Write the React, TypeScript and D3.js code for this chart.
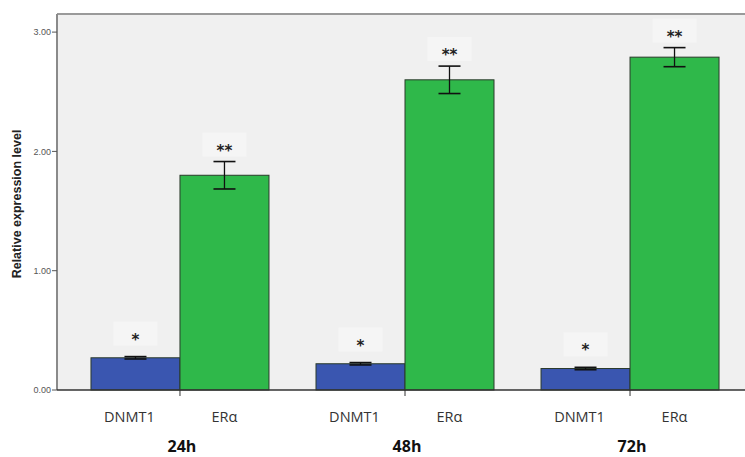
import React from "react";
import * as d3 from "d3";

// Time points and genes
const groups = ["24h", "48h", "72h"];
const genes = ["DNMT1", "ERα"];

// Mean relative expression per time point
const dnmt1Values = [0.27, 0.22, 0.18];
const eraValues = [1.8, 2.6, 2.79];

// Error bar half-widths
const dnmt1Errors = [0.01, 0.01, 0.01];
const eraErrors = [0.115, 0.115, 0.08];

// Significance marks
const dnmt1Marks = ["*", "*", "*"];
const eraMarks = ["**", "**", "**"];

const yTicks = [0, 1, 2, 3];

const W = 745;
const H = 457;

export default function App() {
  const left = 57;
  const top = 14;
  const bottom = 390;

  const y = d3.scaleLinear().domain([0, 3]).range([bottom, bottom - 3 * 119.3]);
  const x0 = d3
    .scaleBand<string>()
    .domain(groups)
    .range([left, 753])
    .paddingInner(0.209)
    .paddingOuter(0.151);
  const x1 = d3.scaleBand<string>().domain(genes).range([0, x0.bandwidth()]);

  const series = [
    { gene: genes[0], values: dnmt1Values, errors: dnmt1Errors, marks: dnmt1Marks, fill: "#3a56b0", lift: 22 },
    { gene: genes[1], values: eraValues, errors: eraErrors, marks: eraMarks, fill: "#2fb84a", lift: 16 },
  ];

  const fmt = d3.format(".2f");

  const cells = groups.flatMap((g, gi) =>
    series.map((s) => {
      const bx = (x0(g) ?? 0) + (x1(s.gene) ?? 0);
      const bw = x1.bandwidth();
      const v = s.values[gi];
      const e = s.errors[gi];
      const cx = bx + bw / 2;
      const starY = y(v + e) - s.lift;
      return { key: g + s.gene, s, gi, bx, bw, v, e, cx, starY };
    })
  );

  return (
    <svg
      width={W}
      height={H}
      style={{ position: "absolute", left: 0, top: 0, background: "#ffffff" }}
      fontFamily="'Open Sans', 'DejaVu Sans', sans-serif"
    >
      {/* plot background */}
      <rect x={left} y={top} width={W - left} height={bottom - top} fill="#f0f0f0" />
      <line x1={left} x2={W} y1={top} y2={top} stroke="#9a9a9a" strokeWidth={2} />
      <line x1={left} x2={left} y1={top} y2={bottom} stroke="#8a8a8a" strokeWidth={2} />

      {/* y axis ticks */}
      {yTicks.map((t) => (
        <g key={t}>
          <line x1={left - 5} x2={left} y1={y(t)} y2={y(t)} stroke="#555" strokeWidth={1} />
          <text
            x={left - 6}
            y={y(t)}
            dy="0.35em"
            textAnchor="end"
            fontSize={9}
            fill="#555"
            fontFamily="Arial, 'Liberation Sans', sans-serif"
          >
            {fmt(t)}
          </text>
        </g>
      ))}

      <text
        transform={`translate(21,${204}) rotate(-90)`}
        textAnchor="middle"
        fontSize={12.5}
        fontWeight="bold"
        fill="#222"
        fontFamily="Arial, 'Liberation Sans', sans-serif"
      >
        Relative expression level
      </text>

      {/* label backdrops */}
      {cells.map((c) => (
        <rect key={c.key + "bg"} x={c.cx - 22} y={c.starY - 13} width={44} height={24} fill="#f5f5f5" />
      ))}

      {/* bars, error bars and labels */}
      {cells.map(({ key, s, gi, bx, bw, v, e, cx, starY }) => (
        <g key={key}>
          <rect
            x={bx}
            y={y(v)}
            width={bw}
            height={bottom - y(v)}
            fill={s.fill}
            stroke="#2a3a2a"
            strokeWidth={1}
          />
          <line x1={cx} x2={cx} y1={y(v + e)} y2={y(v - e)} stroke="#111" strokeWidth={1.3} />
          <line x1={cx - 11} x2={cx + 11} y1={y(v + e)} y2={y(v + e)} stroke="#111" strokeWidth={1.6} />
          <line x1={cx - 11} x2={cx + 11} y1={y(v - e)} y2={y(v - e)} stroke="#111" strokeWidth={1.6} />
          <text
            x={cx}
            y={starY + 10}
            textAnchor="middle"
            fontSize={15}
            fontWeight="bold"
            fill="#222"
            fontFamily="'DejaVu Sans', sans-serif"
          >
            {s.marks[gi]}
          </text>
          <text
            x={cx - (s.gene === genes[0] ? 6 : 0)}
            y={422}
            textAnchor="middle"
            fontSize={14.5}
            fill="#333"
          >
            {s.gene}
          </text>
        </g>
      ))}

      {/* x axis */}
      <line x1={left} x2={W} y1={bottom} y2={bottom} stroke="#333" strokeWidth={1.3} />
      {groups.map((g) => {
        const cx = (x0(g) ?? 0) + x0.bandwidth() / 2;
        return (
          <g key={g}>
            <line x1={cx} x2={cx} y1={bottom} y2={bottom + 6} stroke="#333" strokeWidth={1} />
            <text
              x={cx + 2}
              y={452}
              textAnchor="middle"
              fontSize={16}
              fontWeight="bold"
              fill="#111"
            >
              {g}
            </text>
          </g>
        );
      })}
    </svg>
  );
}
